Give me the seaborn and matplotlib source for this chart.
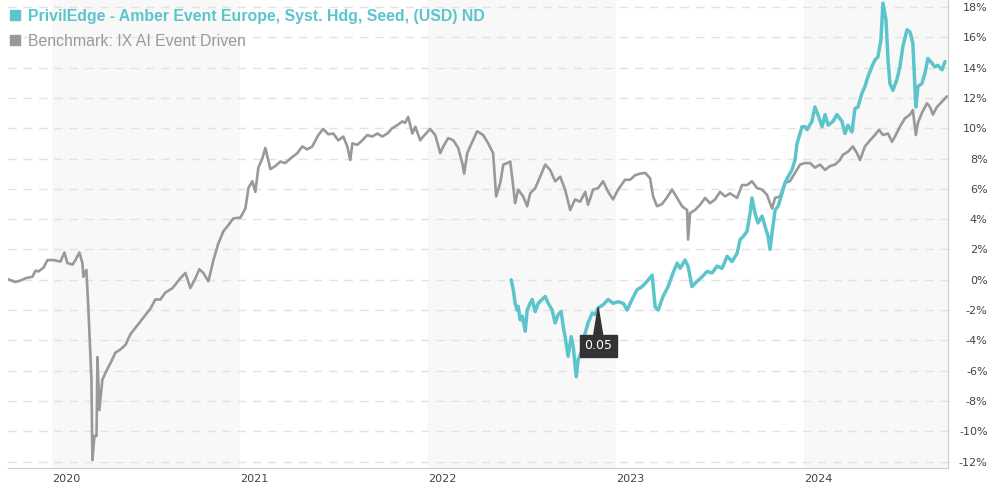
import numpy as np
import pandas as pd
import matplotlib
matplotlib.use("Agg")
import matplotlib.pyplot as plt
import seaborn as sns
from matplotlib.lines import Line2D

# ---------------- data (decimal years, cumulative return %) ----------------
bench_t = [2019.762, 2019.805, 2019.831, 2019.858, 2019.895, 2019.911, 2019.927, 2019.954, 2019.975,
           2020.007, 2020.044, 2020.065, 2020.081, 2020.108, 2020.124, 2020.145, 2020.161, 2020.166,
           2020.182, 2020.193, 2020.209, 2020.214, 2020.225, 2020.236, 2020.241, 2020.251, 2020.267,
           2020.283, 2020.310, 2020.337, 2020.363, 2020.390, 2020.416, 2020.523, 2020.549, 2020.576,
           2020.602, 2020.640, 2020.682, 2020.709, 2020.735, 2020.762, 2020.783, 2020.804, 2020.831,
           2020.858, 2020.884, 2020.911, 2020.937, 2020.964, 2021.001, 2021.028, 2021.044, 2021.065,
           2021.081, 2021.097, 2021.118, 2021.134, 2021.161, 2021.187, 2021.214, 2021.240, 2021.267,
           2021.304, 2021.331, 2021.357, 2021.384, 2021.416, 2021.442, 2021.469, 2021.496, 2021.522,
           2021.549, 2021.570, 2021.586, 2021.597, 2021.623, 2021.650, 2021.676, 2021.703, 2021.730,
           2021.756, 2021.783, 2021.809, 2021.836, 2021.863, 2021.878, 2021.894, 2021.916, 2021.932,
           2021.958, 2021.974, 2022.011, 2022.038, 2022.065, 2022.081, 2022.107, 2022.134, 2022.160,
           2022.182, 2022.192, 2022.208, 2022.235, 2022.261, 2022.293, 2022.320, 2022.346, 2022.362,
           2022.384, 2022.400, 2022.421, 2022.437, 2022.453, 2022.463, 2022.479, 2022.506, 2022.527,
           2022.543, 2022.570, 2022.596, 2022.623, 2022.649, 2022.676, 2022.703, 2022.729, 2022.756,
           2022.782, 2022.809, 2022.836, 2022.851, 2022.878, 2022.905, 2022.931, 2022.958, 2022.984,
           2023.011, 2023.048, 2023.075, 2023.101, 2023.128, 2023.155, 2023.181, 2023.197, 2023.218,
           2023.245, 2023.272, 2023.298, 2023.325, 2023.351, 2023.378, 2023.383, 2023.394, 2023.420,
           2023.447, 2023.474, 2023.500, 2023.527, 2023.553, 2023.580, 2023.606, 2023.644, 2023.670,
           2023.697, 2023.723, 2023.750, 2023.777, 2023.803, 2023.830, 2023.846, 2023.872, 2023.899,
           2023.925, 2023.952, 2023.979, 2024.005, 2024.032, 2024.058, 2024.085, 2024.112, 2024.138,
           2024.165, 2024.191, 2024.207, 2024.234, 2024.260, 2024.282, 2024.298, 2024.324, 2024.351,
           2024.377, 2024.399, 2024.420, 2024.447, 2024.468, 2024.484, 2024.510, 2024.537, 2024.564,
           2024.579, 2024.595, 2024.606, 2024.627, 2024.654, 2024.670, 2024.686, 2024.707, 2024.734,
           2024.760]
bench_v = [0.05, -0.15, -0.05, 0.1, 0.2, 0.6, 0.55, 0.8, 1.3,
           1.3, 1.2, 1.8, 1.1, 1.0, 1.3, 1.8, 1.1, 0.2,
           0.65, -2.0, -6.6, -11.9, -10.3, -10.3, -5.1, -8.6, -6.6,
           -6.15, -5.5, -4.8, -4.6, -4.3, -3.6, -1.9, -1.3, -1.3,
           -0.85, -0.55, 0.1, 0.45, -0.55, 0.1, 0.7, 0.45, -0.1,
           1.3, 2.4, 3.2, 3.6, 4.05, 4.1, 4.7, 6.05, 6.5,
           5.8, 7.4, 8.0, 8.7, 7.3, 7.5, 7.8, 7.7, 8.0,
           8.35, 8.8, 8.6, 8.8, 9.55, 9.95, 9.6, 9.65, 9.2,
           9.45, 8.8, 7.9, 9.0, 8.9, 9.2, 9.55, 9.45, 9.65,
           9.45, 9.65, 10.0, 10.2, 10.45, 10.35, 10.75, 9.65, 10.1,
           9.2, 9.45, 9.95, 9.55, 8.35, 8.8, 9.35, 9.2, 8.7,
           7.7, 7.0, 8.35, 9.1, 9.8, 9.55, 9.0, 8.35, 5.5,
           6.4, 7.6, 7.7, 7.8, 6.15, 5.05, 5.95, 5.5, 4.85,
           5.7, 6.05, 6.8, 7.6, 7.25, 6.5, 6.8, 5.95, 4.6,
           5.3, 5.15, 5.8, 4.95, 5.95, 6.05, 6.5, 5.8, 5.3,
           5.95, 6.6, 6.6, 6.9, 7.0, 7.05, 6.7, 5.5, 4.85,
           5.0, 5.45, 5.95, 5.4, 4.85, 4.6, 2.65, 4.4, 4.6,
           4.95, 5.4, 5.05, 5.3, 5.8, 5.5, 5.7, 5.4, 6.25,
           6.25, 6.5, 6.05, 5.95, 5.6, 4.7, 5.4, 5.5, 6.4,
           6.5, 7.05, 7.6, 7.7, 7.7, 7.4, 7.6, 7.25, 7.5,
           7.6, 7.9, 8.25, 8.45, 8.8, 8.35, 7.9, 8.8, 9.2,
           9.55, 9.9, 9.55, 9.65, 9.1, 9.45, 10.1, 10.65, 10.9,
           11.2, 9.55, 10.35, 11.0, 11.65, 11.4, 10.9, 11.4, 11.75,
           12.1]

fund_t = [2022.442, 2022.453, 2022.463, 2022.474, 2022.479, 2022.490, 2022.501, 2022.517, 2022.527,
          2022.543, 2022.554, 2022.570, 2022.586, 2022.607, 2022.623, 2022.639, 2022.660, 2022.676,
          2022.692, 2022.708, 2022.719, 2022.729, 2022.745, 2022.761, 2022.772, 2022.788, 2022.798,
          2022.820, 2022.836, 2022.851, 2022.873, 2022.889, 2022.905, 2022.931, 2022.958, 2022.984,
          2023.011, 2023.038, 2023.059, 2023.085, 2023.112, 2023.139, 2023.165, 2023.192, 2023.208,
          2023.224, 2023.250, 2023.277, 2023.303, 2023.325, 2023.341, 2023.367, 2023.383, 2023.404,
          2023.431, 2023.458, 2023.484, 2023.511, 2023.537, 2023.564, 2023.591, 2023.617, 2023.644,
          2023.660, 2023.676, 2023.697, 2023.713, 2023.723, 2023.739, 2023.755, 2023.777, 2023.793,
          2023.809, 2023.819, 2023.830, 2023.846, 2023.862, 2023.883, 2023.899, 2023.915, 2023.936,
          2023.952, 2023.963, 2023.979, 2023.989, 2024.005, 2024.016, 2024.042, 2024.058, 2024.074,
          2024.096, 2024.112, 2024.128, 2024.154, 2024.175, 2024.202, 2024.218, 2024.234, 2024.255,
          2024.271, 2024.287, 2024.308, 2024.324, 2024.340, 2024.361, 2024.377, 2024.393, 2024.409,
          2024.420, 2024.436, 2024.447, 2024.457, 2024.473, 2024.494, 2024.510, 2024.526, 2024.548,
          2024.564, 2024.579, 2024.595, 2024.606, 2024.627, 2024.643, 2024.659, 2024.680, 2024.696,
          2024.712, 2024.734, 2024.750]
fund_v = [0.0, -0.65, -1.55, -2.0, -1.75, -2.65, -2.4, -3.4, -2.0,
          -1.55, -1.3, -2.1, -1.55, -1.3, -1.1, -1.55, -2.0, -2.85,
          -2.3, -2.1, -3.1, -3.75, -5.05, -3.75, -4.4, -6.4, -5.3,
          -4.6, -3.5, -2.85, -2.2, -2.3, -1.85, -1.65, -1.3, -1.55,
          -1.45, -1.55, -2.0, -1.3, -0.65, -0.45, -0.1, 0.3, -1.8,
          -2.0, -1.1, -0.45, 0.45, 1.1, 0.75, 1.3, 0.9, -0.45,
          -0.1, 0.2, 0.55, 0.45, 0.9, 0.75, 1.55, 1.2, 1.75,
          2.65, 2.85, 3.2, 4.4, 5.4, 4.4, 3.75, 4.2, 3.5,
          2.85, 2.0, 3.1, 4.6, 4.85, 5.7, 6.4, 6.8, 7.25,
          7.9, 9.0, 9.65, 10.1, 10.1, 9.9, 10.45, 11.4, 10.9,
          10.1, 10.9, 10.2, 10.45, 10.9, 10.45, 9.65, 10.2, 9.75,
          11.3, 11.4, 12.3, 12.75, 13.4, 14.05, 14.5, 14.7, 15.8,
          18.25, 17.15, 14.5, 12.95, 12.5, 13.2, 14.05, 15.4, 16.5,
          16.35, 15.6, 11.4, 12.75, 12.95, 13.6, 14.6, 14.3, 14.05,
          14.15, 13.85, 14.4]

year_ticks = [2020, 2021, 2022, 2023, 2024]
year_labels = ["2020", "2021", "2022", "2023", "2024"]
shaded_years = [2020, 2022, 2024]
pct_ticks = [-12, -10, -8, -6, -4, -2, 0, 2, 4, 6, 8, 10, 12, 14, 16, 18]
pct_labels = [f"{v}%" for v in pct_ticks]

fund_name = "PrivilEdge - Amber Event Europe, Syst. Hdg, Seed, (USD) ND"
bench_name = "Benchmark: IX AI Event Driven"
tooltip_t = 2022.905
tooltip_v = -1.85
tooltip_text = "0.05"

TEAL = "#5cc5cc"
GREY = "#999999"

# ---------------- figure ----------------
sns.set_style("white")
plt.rcParams["font.family"] = ["DejaVu Sans"]

fig = plt.figure(figsize=(9.9, 4.87), dpi=100)
ax = fig.add_axes([8 / 990, 19 / 487, 940 / 990, 468 / 487])

for y0 in shaded_years:
    ax.axvspan(y0, y0 + 1, color="#f8f8f8", lw=0, zorder=0)

bench_df = pd.DataFrame({"t": bench_t, "v": bench_v})
fund_df = pd.DataFrame({"t": fund_t, "v": fund_v})

sns.lineplot(data=bench_df, x="t", y="v", color=GREY, lw=1.9, ax=ax,
             estimator=None, sort=False, zorder=3)
sns.lineplot(data=fund_df, x="t", y="v", color=TEAL, lw=2.5, ax=ax,
             estimator=None, sort=False, zorder=4)

ax.set_xlim(2019.765, 2024.766)
ax.set_ylim(-12.42, 18.46)
ax.set_xlabel("")
ax.set_ylabel("")

ax.set_axisbelow(True)
ax.set_yticks(pct_ticks)
ax.set_yticklabels(pct_labels)
ax.yaxis.tick_right()
ax.grid(axis="y", color="#e2e2e2", linestyle=(0, (6, 5)), linewidth=1, zorder=0.5)
ax.grid(axis="x", visible=False)
ax.tick_params(axis="y", length=0, pad=28.5, labelsize=8, labelcolor="#444444")
for lab in ax.get_yticklabels():
    lab.set_horizontalalignment("right")

ax.set_xticks(year_ticks)
ax.set_xticklabels(year_labels)
ax.tick_params(axis="x", length=0, pad=4, labelsize=8, labelcolor="#444444")
for lab in ax.get_xticklabels():
    lab.set_horizontalalignment("left")

for s in ("top", "left"):
    ax.spines[s].set_visible(False)
ax.spines["bottom"].set_color("#cccccc")
ax.spines["right"].set_color("#cccccc")

handles = [Line2D([], [], marker="s", ls="", color=TEAL, markersize=7),
           Line2D([], [], marker="s", ls="", color=GREY, markersize=7)]
leg = ax.legend(handles, [fund_name, bench_name], loc="upper left",
                bbox_to_anchor=(9 / 990, 1 - 9 / 487), bbox_transform=fig.transFigure,
                frameon=False, prop={"family": "Liberation Sans", "size": 11.4},
                handletextpad=0.4, labelspacing=0.6, borderpad=0, borderaxespad=0,
                handlelength=0.8)
leg.get_texts()[0].set_color(TEAL)
leg.get_texts()[0].set_fontweight("bold")
leg.get_texts()[1].set_color(GREY)

ax.annotate(tooltip_text, xy=(tooltip_t, tooltip_v), xytext=(0, -38),
            textcoords="offset pixels", ha="center", va="center", color="white",
            fontsize=9, zorder=10,
            bbox=dict(boxstyle="square,pad=0.35", fc="#333333", ec="#333333"),
            arrowprops=dict(arrowstyle="wedge,tail_width=0.7,shrink_factor=0.5",
                            fc="#333333", ec="#333333", shrinkA=0, shrinkB=0))

fig.savefig("out.png", dpi=100)
